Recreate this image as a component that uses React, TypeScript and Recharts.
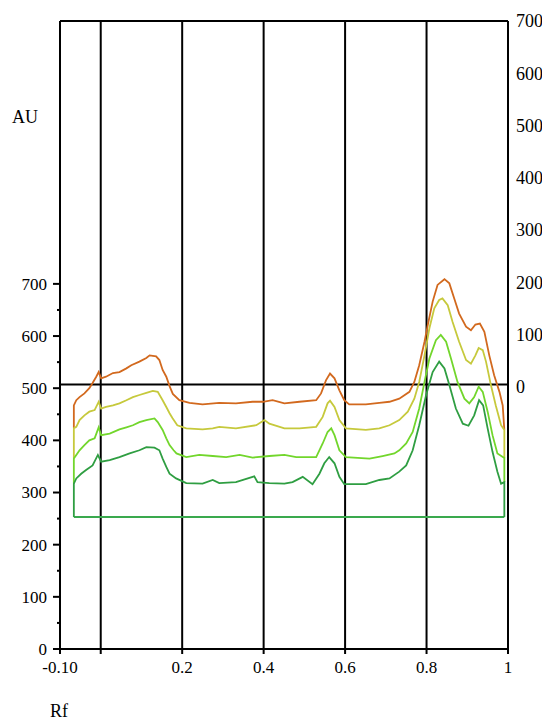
import { ComposedChart, Line, XAxis, YAxis, ReferenceLine } from "recharts"

// densitogram traces, [Rf, AU]
const orange = [
  [-0.066, 467], [-0.06, 477], [-0.052, 483], [-0.04, 490], [-0.028, 500], [-0.02, 510], [-0.011, 522], [-0.005, 531],
  [0.001, 519], [0.013, 522], [0.03, 529], [0.046, 531], [0.063, 538], [0.075, 544], [0.095, 551], [0.112, 558],
  [0.12, 563], [0.136, 561], [0.144, 554], [0.152, 535], [0.161, 522], [0.169, 504], [0.177, 489], [0.193, 477],
  [0.218, 472], [0.25, 469], [0.291, 472], [0.332, 471], [0.373, 474], [0.398, 474], [0.422, 477], [0.451, 471],
  [0.488, 474], [0.529, 477], [0.541, 490], [0.553, 515], [0.563, 528], [0.574, 519], [0.586, 496], [0.598, 477],
  [0.61, 469], [0.651, 469], [0.684, 472], [0.709, 474], [0.733, 480], [0.758, 493], [0.77, 512], [0.782, 544],
  [0.795, 589], [0.803, 621], [0.815, 666], [0.827, 698], [0.844, 709], [0.856, 701], [0.868, 672], [0.88, 643],
  [0.897, 618], [0.909, 611], [0.92, 622], [0.931, 624], [0.942, 608], [0.954, 563], [0.966, 525], [0.979, 493],
  [0.987, 467], [0.991, 420],
]

const yellow = [
  [-0.066, 423], [-0.06, 426], [-0.052, 439], [-0.04, 448], [-0.028, 455], [-0.015, 458], [-0.005, 474], [0.001, 461],
  [0.013, 464], [0.03, 467], [0.046, 471], [0.063, 477], [0.079, 483], [0.095, 487], [0.112, 491], [0.128, 495],
  [0.14, 493], [0.152, 477], [0.161, 464], [0.169, 452], [0.176, 443], [0.188, 429], [0.21, 423], [0.25, 421],
  [0.275, 423], [0.291, 426], [0.332, 423], [0.382, 429], [0.402, 439], [0.414, 432], [0.451, 423], [0.488, 423],
  [0.529, 426], [0.545, 445], [0.557, 471], [0.563, 476], [0.574, 464], [0.586, 439], [0.602, 423], [0.651, 420],
  [0.684, 423], [0.709, 429], [0.733, 439], [0.754, 455], [0.77, 480], [0.782, 512], [0.795, 563], [0.807, 615],
  [0.819, 653], [0.831, 669], [0.839, 672], [0.852, 659], [0.864, 627], [0.88, 589], [0.897, 554], [0.909, 547],
  [0.92, 563], [0.928, 577], [0.938, 573], [0.946, 551], [0.958, 506], [0.97, 467], [0.983, 429], [0.991, 420],
]

const lightGreen = [
  [-0.066, 365], [-0.06, 372], [-0.052, 381], [-0.04, 391], [-0.028, 400], [-0.015, 404], [-0.005, 425], [0.001, 410],
  [0.022, 413], [0.046, 421], [0.063, 425], [0.079, 429], [0.095, 435], [0.112, 439], [0.132, 442], [0.14, 435],
  [0.152, 420], [0.161, 404], [0.169, 391], [0.179, 381], [0.186, 375], [0.21, 368], [0.242, 372], [0.275, 370],
  [0.308, 368], [0.341, 372], [0.373, 367], [0.414, 370], [0.451, 372], [0.48, 368], [0.529, 368], [0.545, 394],
  [0.557, 416], [0.566, 423], [0.574, 410], [0.586, 381], [0.602, 368], [0.66, 365], [0.692, 370], [0.721, 375],
  [0.733, 381], [0.75, 394], [0.766, 416], [0.782, 461], [0.795, 512], [0.807, 557], [0.823, 592], [0.835, 602],
  [0.848, 589], [0.86, 557], [0.876, 512], [0.893, 480], [0.905, 471], [0.917, 483], [0.928, 503], [0.938, 493],
  [0.95, 455], [0.962, 410], [0.974, 375], [0.991, 366],
]

const darkGreen = [
  [-0.066, 317], [-0.06, 327], [-0.048, 336], [-0.036, 343], [-0.02, 352], [-0.007, 372], [0.001, 359], [0.022, 362],
  [0.046, 368], [0.071, 375], [0.095, 381], [0.112, 387], [0.132, 386], [0.144, 381], [0.152, 365], [0.161, 349],
  [0.169, 336], [0.185, 327], [0.21, 318], [0.25, 317], [0.275, 324], [0.291, 318], [0.332, 320], [0.377, 331],
  [0.385, 320], [0.414, 318], [0.451, 317], [0.471, 320], [0.496, 330], [0.52, 316], [0.537, 336], [0.549, 356],
  [0.561, 368], [0.574, 356], [0.586, 330], [0.598, 316], [0.651, 316], [0.684, 324], [0.709, 327], [0.733, 340],
  [0.75, 352], [0.766, 381], [0.782, 429], [0.799, 487], [0.815, 531], [0.831, 551], [0.844, 538], [0.856, 506],
  [0.872, 461], [0.889, 432], [0.903, 428], [0.917, 448], [0.929, 477], [0.939, 467], [0.95, 423], [0.962, 378],
  [0.974, 340], [0.983, 317], [0.991, 320],
]

const baseline = [[-0.066, 253], [0.991, 253]]

const traceColors = ["#d2691e", "#c6c93c", "#72d62c", "#2f9e42"]
const baselineColor = "#3aa94e"

const xTicks = [-0.1, 0, 0.2, 0.4, 0.6, 0.8, 1]
const gridX = [0, 0.2, 0.4, 0.6, 0.8]
const leftTicks = [0, 50, 100, 150, 200, 250, 300, 350, 400, 450, 500, 550, 600, 650, 700]
const rightTicks = [0, 100, 200, 300, 400, 500, 600, 700]
const zeroLine = 507

const font = "'Liberation Serif', 'Times New Roman', Times, 'DejaVu Serif', serif"

// each trace drops vertically to the one below at both ends
const traces = [orange, yellow, lightGreen, darkGreen]
const seriesData = traces.map((pts, i) => {
  const below = i < traces.length - 1 ? traces[i + 1] : baseline
  const first = [pts[0][0], below[0][1]]
  const last = [pts[pts.length - 1][0], below[below.length - 1][1]]
  return [first, ...pts, last].map(([rf, au]) => ({ rf, au }))
})
const baseData = baseline.map(([rf, au]) => ({ rf, au }))

const LeftTick = (props: any) => {
  const { x, y, payload } = props
  const v = payload.value
  const major = v % 100 === 0
  return (
    <g>
      <line x1={x - (major ? 7 : 3)} x2={x} y1={y} y2={y} stroke="#000" strokeWidth={2} />
      {major && (
        <text x={x - 13} y={y} dy="0.35em" textAnchor="end" fontSize={17} fill="#000" fontFamily={font}>
          {v}
        </text>
      )}
    </g>
  )
}

const fmtX = (v: number) => (v === 0 ? "" : v === -0.1 ? "-0.10" : String(v))

export default function App() {
  const axisLine = { stroke: "#000", strokeWidth: 2 }
  return (
    <div style={{ position: "relative", width: 542, height: 713, fontFamily: font }}>
      <ComposedChart width={542} height={713} margin={{ top: 13, right: 0, bottom: 42, left: 0 }} style={{ fontFamily: font }}>
        <XAxis
          type="number"
          dataKey="rf"
          domain={[-0.1, 1]}
          ticks={xTicks}
          tickFormatter={fmtX}
          axisLine={axisLine}
          tickLine={axisLine}
          tickSize={5}
          tickMargin={7}
          height={30}
          tick={{ fill: "#000", fontSize: 17, fontFamily: font }}
          allowDataOverflow
        />
        <YAxis
          yAxisId="left"
          type="number"
          domain={[0, 1204]}
          ticks={leftTicks}
          width={52}
          axisLine={axisLine}
          tickLine={false}
          tickSize={0}
          tickMargin={0}
          tick={LeftTick}
          interval={0}
          allowDataOverflow
        />
        <YAxis
          yAxisId="right"
          orientation="right"
          type="number"
          domain={[-502, 700]}
          ticks={rightTicks}
          width={42}
          axisLine={axisLine}
          tickLine={false}
          tickSize={0}
          tickMargin={8}
          interval={0}
          tick={{ fill: "#000", fontSize: 18, fontFamily: font }}
          allowDataOverflow
        />
        {gridX.map((x) => (
          <ReferenceLine key={x} x={x} yAxisId="left" stroke="#000" strokeWidth={2} />
        ))}
        <ReferenceLine y={1204} yAxisId="left" stroke="#000" strokeWidth={2} />
        <ReferenceLine y={zeroLine} yAxisId="left" stroke="#000" strokeWidth={2} />
        <Line
          yAxisId="left"
          data={baseData}
          dataKey="au"
          type="linear"
          stroke={baselineColor}
          strokeWidth={2}
          dot={false}
          isAnimationActive={false}
        />
        {seriesData.map((d, i) => (
          <Line
            key={i}
            yAxisId="left"
            data={d}
            dataKey="au"
            type="linear"
            stroke={traceColors[i]}
            strokeWidth={1.8}
            dot={false}
            isAnimationActive={false}
          />
        ))}
      </ComposedChart>
      <span style={{ position: "absolute", left: 4, top: 99, fontSize: 18 }}>AU</span>
      <span style={{ position: "absolute", left: 42, top: 693, fontSize: 18 }}>Rf</span>
    </div>
  )
}
